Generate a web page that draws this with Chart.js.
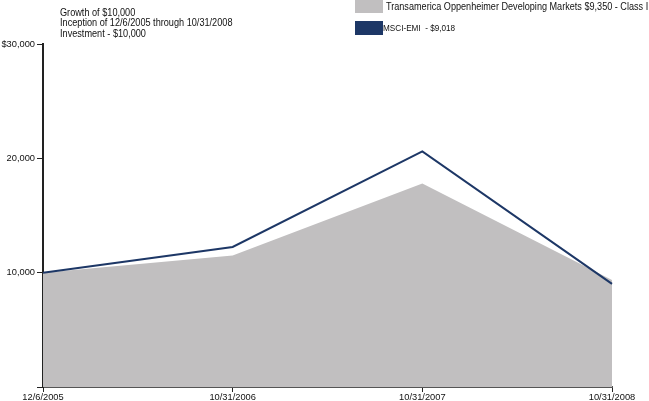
<!DOCTYPE html>
<html>
<head>
<meta charset="utf-8">
<script src="https://cdn.jsdelivr.net/npm/chart.js@4"></script>
<style>
  html, body { margin: 0; padding: 0; background: #fff; overflow: hidden; }
  body { width: 649px; height: 401px; position: relative; font-family: "Liberation Sans", Arial, sans-serif; color: #111; }
  #wrap { position: absolute; left: 0; top: 0; width: 649px; height: 401px; }
  #title { position: absolute; left: 60px; top: 7.5px; font-size: 10px; line-height: 10.6px; transform: scaleX(0.915); transform-origin: 0 0; }
  .leg { position: absolute; left: 355px; white-space: nowrap; }
  .leg span.box { position: absolute; left: 0; width: 28px; height: 14px; }
  .leg span.txt { position: absolute; left: 31px; transform-origin: 0 0; }
  #leg1 { top: 0; }
  #leg1 .box { top: 0; height: 13px; background: #c1bfc0; }
  #leg1 .txt { top: 0; font-size: 10px; line-height: 13px; transform: scaleX(0.91); }
  #leg2 { top: 21px; }
  #leg2 .box { top: 0; background: #1d3766; }
  #leg2 .txt { top: 1px; font-size: 8.6px; line-height: 12px; left: 28px; transform: scaleX(0.95); }
</style>
</head>
<body>
<div id="wrap"><canvas id="chart" width="649" height="401"></canvas></div>
<div id="title">Growth of $10,000<br>Inception of 12/6/2005 through 10/31/2008<br>Investment - $10,000</div>
<div class="leg" id="leg1"><span class="box"></span><span class="txt">Transamerica Oppenheimer Developing Markets $9,350 - Class I</span></div>
<div class="leg" id="leg2"><span class="box"></span><span class="txt">MSCI-EMI&nbsp; - $9,018</span></div>
<script>
const dates = ['12/6/2005', '10/31/2006', '10/31/2007', '10/31/2008'];
const fundValues = [10000, 11500, 17800, 9350];
const indexValues = [10000, 12250, 20600, 9018];
const yTicks = [0, 10000, 20000, 30000];

const tickFont = { family: '"Liberation Sans", Arial, sans-serif', size: 9.3 };

const ctx = document.getElementById('chart').getContext('2d');
new Chart(ctx, {
  type: 'line',
  data: {
    labels: dates,
    datasets: [
      {
        label: 'MSCI-EMI  - $9,018',
        data: indexValues,
        borderColor: '#1d3766',
        borderWidth: 2,
        fill: false,
        pointRadius: 0,
        tension: 0,
        order: 0
      },
      {
        label: 'Transamerica Oppenheimer Developing Markets $9,350 - Class I',
        data: fundValues,
        backgroundColor: '#c1bfc0',
        borderWidth: 0,
        borderColor: 'rgba(0,0,0,0)',
        fill: 'origin',
        pointRadius: 0,
        tension: 0,
        order: 1
      }
    ]
  },
  options: {
    responsive: false,
    animation: false,
    layout: { padding: { top: 44, right: 37, left: 0, bottom: 0 } },
    plugins: { legend: { display: false }, tooltip: { enabled: false } },
    scales: {
      x: {
        offset: false,
        afterFit: s => { s.height = 14; },
        grid: { drawOnChartArea: false, tickLength: 5, color: '#222', lineWidth: 1 },
        border: { display: true, color: '#555', width: 2 },
        ticks: { padding: 0, maxRotation: 0, autoSkip: false, color: '#111', font: tickFont }
      },
      y: {
        min: 0,
        max: 30000,
        afterFit: s => { s.width = 43; },
        afterBuildTicks: s => { s.ticks = yTicks.map(v => ({ value: v })); },
        grid: { drawOnChartArea: false, tickLength: 6, color: '#222', lineWidth: 1 },
        border: { display: true, color: '#222', width: 2 },
        ticks: {
          padding: 2,
          color: '#111',
          font: tickFont,
          callback: v => v === 0 ? '' : (v === 30000 ? '$' : '') + v.toLocaleString('en-US')
        }
      }
    }
  }
});
</script>
</body>
</html>
